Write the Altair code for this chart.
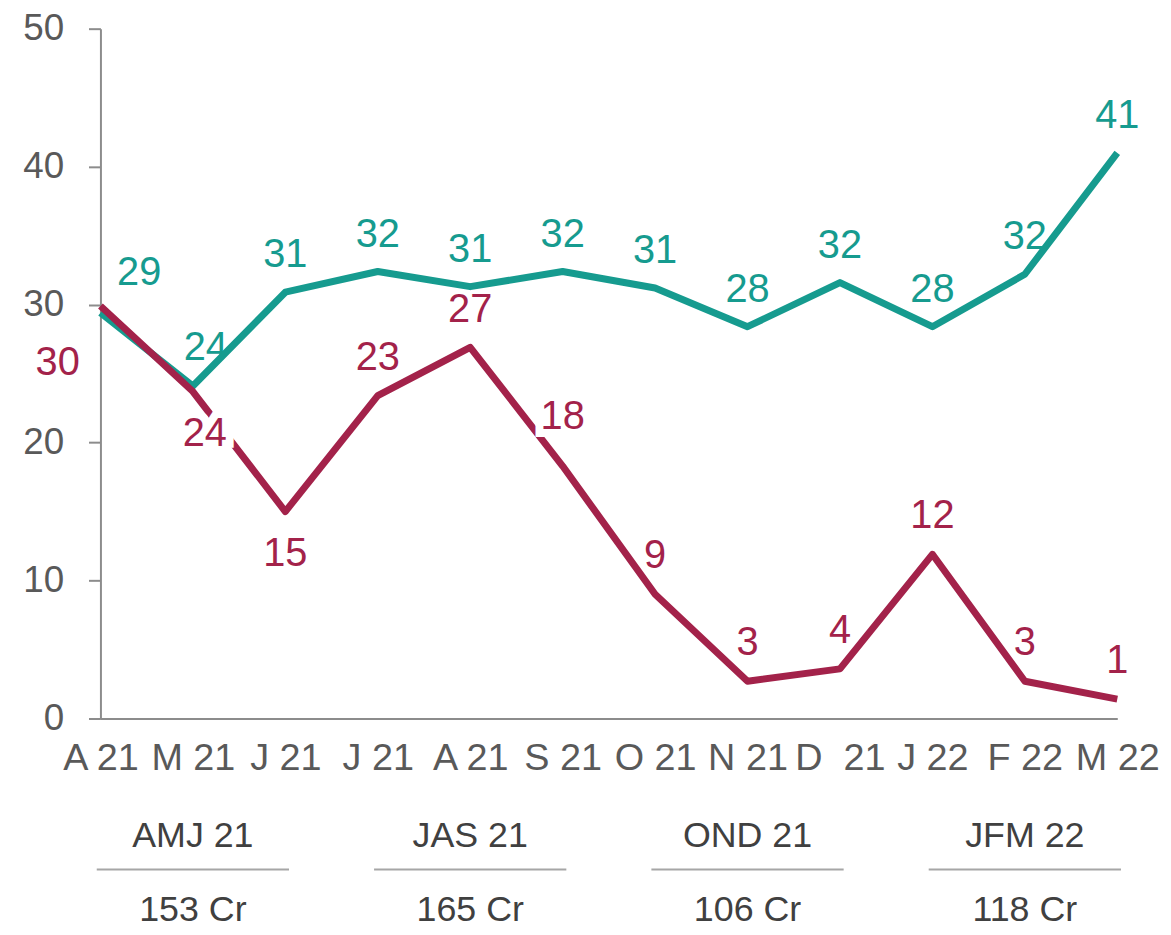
import json
import altair as alt
import pandas as pd

# ---------------- data ----------------
months = ["A 21", "M 21", "J 21", "J 21", "A 21", "S 21", "O 21", "N 21",
          "D\u00a0\u00a021", "J 22", "F 22", "M 22"]
series_names = ["Series 1", "Series 2"]
teal_values = [29.4, 24.1, 30.9, 32.4, 31.3, 32.4, 31.2, 28.4, 31.6, 28.4, 32.2, 41.0]
crimson_values = [29.9, 23.7, 15.0, 23.4, 26.9, 18.3, 9.0, 2.7, 3.6, 11.9, 2.7, 1.4]
quarters = ["AMJ 21", "JAS 21", "OND 21", "JFM 22"]
quarter_totals = ["153 Cr", "165 Cr", "106 Cr", "118 Cr"]
quarter_mid_month = [1, 4, 7, 10]

# ---------------- styling / layout ----------------
FONT = "Liberation Sans"
TEAL = "#169b8f"
CRIMSON = "#a3224a"
AXIS_GRAY = "#8c8c8c"
LABEL_GRAY = "#595959"
W, H = 1023, 694

rows = []
for s, vals in zip(series_names, [teal_values, crimson_values]):
    for i, v in enumerate(vals):
        rows.append({"idx": i, "month": months[i], "series": s, "value": v})
df = pd.DataFrame(rows)

qdf = pd.DataFrame({"quarter": quarters, "total": quarter_totals, "mid": quarter_mid_month})

# label placement: (series, indices, dx, dy, boxed)
label_layout = [
    ("Series 1", [0], 39, -40, False),
    ("Series 1", [1], 13, -38, False),
    ("Series 1", [2, 3, 4, 5, 6, 7, 8, 9, 10, 11], 0, -37, False),
    ("Series 2", [0], -43, 57, False),
    ("Series 2", [1], 12, 43, True),
    ("Series 2", [2], 0, 43, False),
    ("Series 2", [5], 0, -49, True),
    ("Series 2", [3, 4, 6, 7, 8, 9, 10, 11], 0, -38, False),
]

label_expr = json.dumps(months) + "[datum.value]"

x = alt.X("idx:Q", title=None,
          scale=alt.Scale(domain=[0, 11], nice=False, zero=False),
          axis=alt.Axis(values=list(range(12)), labelExpr=label_expr, ticks=False,
                        grid=False, domainColor=AXIS_GRAY, domainWidth=2,
                        labelFont=FONT, labelFontSize=38, labelColor=LABEL_GRAY,
                        labelPadding=21, labelFlush=False, labelOverlap=False))
y = alt.Y("value:Q", title=None,
          scale=alt.Scale(domain=[0, 50], nice=False),
          axis=alt.Axis(values=[0, 10, 20, 30, 40, 50], grid=False,
                        domainColor=AXIS_GRAY, domainWidth=2,
                        tickColor=AXIS_GRAY, tickWidth=2, tickSize=12,
                        labelFont=FONT, labelFontSize=37, labelColor=LABEL_GRAY,
                        labelPadding=25))
color = alt.Color("series:N", legend=None,
                  scale=alt.Scale(domain=series_names, range=[TEAL, CRIMSON]))

base = alt.Chart(df)
lines = base.mark_line(strokeWidth=7, strokeJoin="round").encode(x=x, y=y, color=color)

halo_layers = []
text_layers = []
for s, idxs, dx, dy, boxed in label_layout:
    flt = f"datum.series == '{s}' && indexof({json.dumps(idxs)}, datum.idx) >= 0"
    if boxed:
        halo_layers.append(
            base.transform_filter(flt).mark_text(
                font=FONT, fontSize=40, dx=dx, dy=dy, align="center", baseline="middle",
                fill="white", stroke="white", strokeWidth=16, strokeJoin="miter"
            ).encode(x="idx:Q", y="value:Q", text=alt.Text("value:Q", format=".0f"))
        )
    text_layers.append(
        base.transform_filter(flt).mark_text(
            font=FONT, fontSize=40, dx=dx, dy=dy, align="center", baseline="middle"
        ).encode(x="idx:Q", y="value:Q", color=color,
                 text=alt.Text("value:Q", format=".0f"))
    )

qbase = alt.Chart(qdf)
q_labels = qbase.transform_calculate(idx="datum.mid").mark_text(
    font=FONT, fontSize=36, color="#404040", align="center", baseline="middle"
).encode(x="idx:Q", y=alt.value(812), text="quarter:N")
q_rules = qbase.transform_calculate(idx="datum.mid - 1.04", idx_end="datum.mid + 1.04").mark_rule(
    color="#a6a6a6", strokeWidth=2
).encode(x="idx:Q", x2="idx_end:Q", y=alt.value(846))
q_totals = qbase.transform_calculate(idx="datum.mid").mark_text(
    font=FONT, fontSize=36, color="#404040", align="center", baseline="middle"
).encode(x="idx:Q", y=alt.value(887), text="total:N")

chart = alt.layer(
    lines, *halo_layers, *text_layers, q_labels, q_rules, q_totals
).properties(
    width=W, height=H,
    padding={"left": 93, "top": 18, "right": 46, "bottom": 212},
    autosize=alt.AutoSizeParams(type="none"),
).configure_view(stroke=None)

chart.save("out.html", embed_options={"renderer": "svg", "actions": False})
